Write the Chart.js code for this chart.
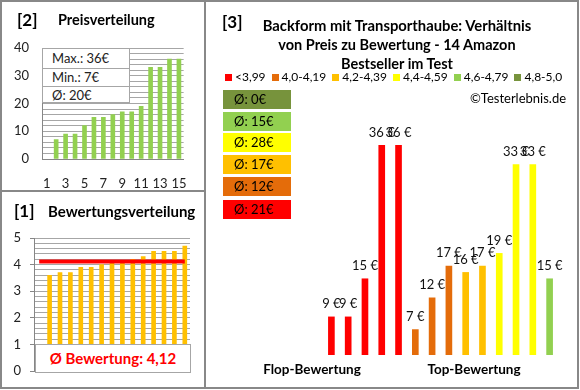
<!DOCTYPE html>
<html>
<head>
<meta charset="utf-8">
<script src="https://cdn.jsdelivr.net/npm/chart.js@4.4.0/dist/chart.umd.min.js"></script>
<style>
body{margin:0;background:#fff;font-family:Lato,"Liberation Sans",sans-serif;color:#000;}
#wrap{position:relative;width:580px;height:390px;overflow:hidden;}
.t{position:absolute;white-space:nowrap;line-height:16px;margin-top:-8px;}
.b{font-weight:bold;}
canvas{position:absolute;}
.frame{position:absolute;left:0;top:0;width:579px;height:389px;border:2px solid #888;box-sizing:border-box;}
.ln{position:absolute;background:#888;}
.box{position:absolute;background:#fff;border:1px solid #a6a6a6;box-sizing:border-box;}
#legend{position:absolute;left:225px;top:69px;display:flex;font-size:12px;line-height:16px;white-space:nowrap;width:360px;}
#legend span.sq{display:inline-block;width:7px;height:7px;margin:5px 3px 0 0;}
#legend div{margin-right:6px;display:flex;flex-shrink:0;}
.avg{position:absolute;left:223px;width:68px;height:19px;font-size:13px;line-height:19px;padding-left:11px;box-sizing:border-box;}
</style>
</head>
<body>
<div id="wrap">
<div class="frame"></div>
<div class="ln" style="left:204px;top:0;width:2px;height:389px"></div>
<div class="ln" style="left:0;top:190px;width:205px;height:2px"></div>

<canvas id="priceChart" style="left:0px;top:0px" width="204" height="190"></canvas>
<canvas id="ratingChart" style="left:0px;top:192px" width="204" height="196"></canvas>
<canvas id="mainChart" style="left:206px;top:110px" width="370" height="277"></canvas>

<div class="t b" style="left:17px;top:20px;font-size:17px">[2]</div>
<div class="t b" style="left:58px;top:20px;font-size:14.5px">Preisverteilung</div>
<div class="t b" style="left:14px;top:211px;font-size:17px">[1]</div>
<div class="t b" style="left:48px;top:211px;font-size:15px">Bewertungsverteilung</div>
<div class="t b" style="left:222px;top:22px;font-size:17px">[3]</div>
<div class="t b" style="left:247px;width:300px;text-align:center;top:25px;font-size:14.8px">Backform mit Transporthaube: Verhältnis</div>
<div class="t b" style="left:247px;width:300px;text-align:center;top:45px;font-size:14.5px">von Preis zu Bewertung - 14 Amazon</div>
<div class="t b" style="left:247px;width:300px;text-align:center;top:64px;font-size:14.5px">Bestseller im Test</div>
<div id="legend"></div>
<div class="t" style="left:470px;top:98px;font-size:13px">©Testerlebnis.de</div>
<div id="avgBoxes"></div>
<div class="t b" style="left:262px;width:100px;text-align:center;top:369px;font-size:13.5px">Flop-Bewertung</div>
<div class="t b" style="left:424px;width:100px;text-align:center;top:369px;font-size:13.5px">Top-Bewertung</div>

<div class="box" id="statBox" style="left:42px;top:48px;width:88px;height:55px"></div>
<div class="box" style="left:35px;top:344px;width:156px;height:29px;color:#f00;font-weight:bold;font-size:15px;line-height:27px;text-align:center">Ø Bewertung: 4,12</div>
</div>

<script>
let priceCats=['1','2','3','4','5','6','7','8','9','10','11','12','13','14','15'];
let prices=[null,7,9,9,12,15,15,16,17,17,19,33,33,36,36];
let priceStats=['Max.: 36€','Min.: 7€','Ø: 20€'];

let ratings=[null,3.6,3.7,3.7,3.9,3.9,4.0,4.1,4.1,4.2,4.3,4.5,4.5,4.5,4.7];
let avgRating=4.12;

let barPrices=[9,9,15,36,36,7,12,17,16,17,19,33,33,15];
let barGroups=[0,0,0,0,0,1,1,1,2,2,3,3,3,4];

let legendLabels=['<3,99','4,0-4,19','4,2-4,39','4,4-4,59','4,6-4,79','4,8-5,0'];
let legendColors=['#FF0000','#E46C0A','#FFC000','#FFFF00','#92D050','#77933C'];

let avgLabels=['Ø: 0€','Ø: 15€','Ø: 28€','Ø: 17€','Ø: 12€','Ø: 21€'];
let avgGroups=[5,4,3,2,1,0];

let grid='#a6a6a6';
let axis='#868686';
let tickFont={family:'Lato',size:13};

// legend + boxes
let leg=document.getElementById('legend');
legendLabels.forEach((l,i)=>{
let d=document.createElement('div');
d.innerHTML='<span class="sq" style="background:'+legendColors[i]+'"></span>'+l.replace('<','&lt;');
leg.appendChild(d);
});

let tops=[90,112,133,155,177,200];
let ab=document.getElementById('avgBoxes');
avgLabels.forEach((l,i)=>{
let d=document.createElement('div');
d.className='avg';
d.style.top=tops[i]+'px';
d.style.background=legendColors[avgGroups[i]];
d.innerText=l;
ab.appendChild(d);
});

let sb=document.getElementById('statBox');
let rowH=[19,17,17];
priceStats.forEach((s,i)=>{
let d=document.createElement('div');
d.style.cssText='height:'+rowH[i]+'px;line-height:'+rowH[i]+'px;padding-left:9px;font-size:13px;color:#222;'+(i<2?'border-bottom:1px solid #a6a6a6;':'');
d.innerText=s;
sb.appendChild(d);
});

let isInt=v=>Math.abs(v-Math.round(v))<1e-6;

new Chart(document.getElementById('priceChart'),{
type:'bar',
data:{labels:priceCats,datasets:[{data:prices,backgroundColor:'#92D050',barThickness:4}]},
options:{
responsive:false,animation:false,
layout:{padding:{top:48,right:16,left:0,bottom:0}},
plugins:{legend:{display:false},tooltip:{enabled:false}},
scales:{
x:{grid:{display:false,drawTicks:false},border:{color:axis},
ticks:{autoSkip:false,maxRotation:0,padding:17,color:'#222',font:tickFont,callback:(v,i)=>i%2==0?priceCats[i]:''},
afterFit:s=>{s.height=31;}},
y:{min:0,max:40,border:{color:axis},
grid:{color:grid,drawTicks:false},
ticks:{stepSize:2,autoSkip:false,padding:13,color:'#222',font:tickFont,callback:v=>v%10==0?v:''},
afterFit:s=>{s.width=42;}}
}
}
});

new Chart(document.getElementById('ratingChart'),{
data:{labels:priceCats,datasets:[
{type:'line',data:priceCats.map(()=>avgRating),borderColor:'#FF0000',borderWidth:4,pointRadius:0,order:0},
{type:'bar',data:ratings,backgroundColor:'#FFC000',barThickness:4,order:1}
]},
options:{
responsive:false,animation:false,
layout:{padding:{top:46,right:14,left:0,bottom:15}},
plugins:{legend:{display:false},tooltip:{enabled:false}},
scales:{
x:{display:false},
y:{min:0,max:5,border:{color:axis},
grid:{color:grid,drawTicks:true,tickLength:4,
tickColor:c=>isInt(c.tick.value)?axis:'rgba(0,0,0,0)'},
ticks:{stepSize:0.2,autoSkip:false,padding:9,color:'#222',font:tickFont,
callback:v=>isInt(v)?Math.round(v):''},
afterFit:s=>{s.width=34;}}
}
}
});

let labelPlugin={
id:'priceLabels',
afterDatasetsDraw(chart){
let ctx=chart.ctx;
ctx.save();
ctx.font='13px Lato';
ctx.fillStyle='#111';
ctx.textAlign='center';
ctx.textBaseline='middle';
chart.getDatasetMeta(0).data.forEach((el,i)=>{
ctx.fillText(barPrices[i]+' €',el.x,el.y-13);
});
ctx.restore();
}
};

new Chart(document.getElementById('mainChart'),{
type:'bar',
data:{labels:barPrices.map((_,i)=>'P'+(i+1)),
datasets:[{data:barPrices,backgroundColor:barGroups.map(g=>legendColors[g]),barThickness:6}]},
options:{
responsive:false,animation:false,
layout:{padding:{top:10,right:18,left:117,bottom:32}},
plugins:{legend:{display:false},tooltip:{enabled:false}},
scales:{
x:{display:false},
y:{display:false,min:3,max:40}
}
},
plugins:[labelPlugin]
});
</script>
</body>
</html>
